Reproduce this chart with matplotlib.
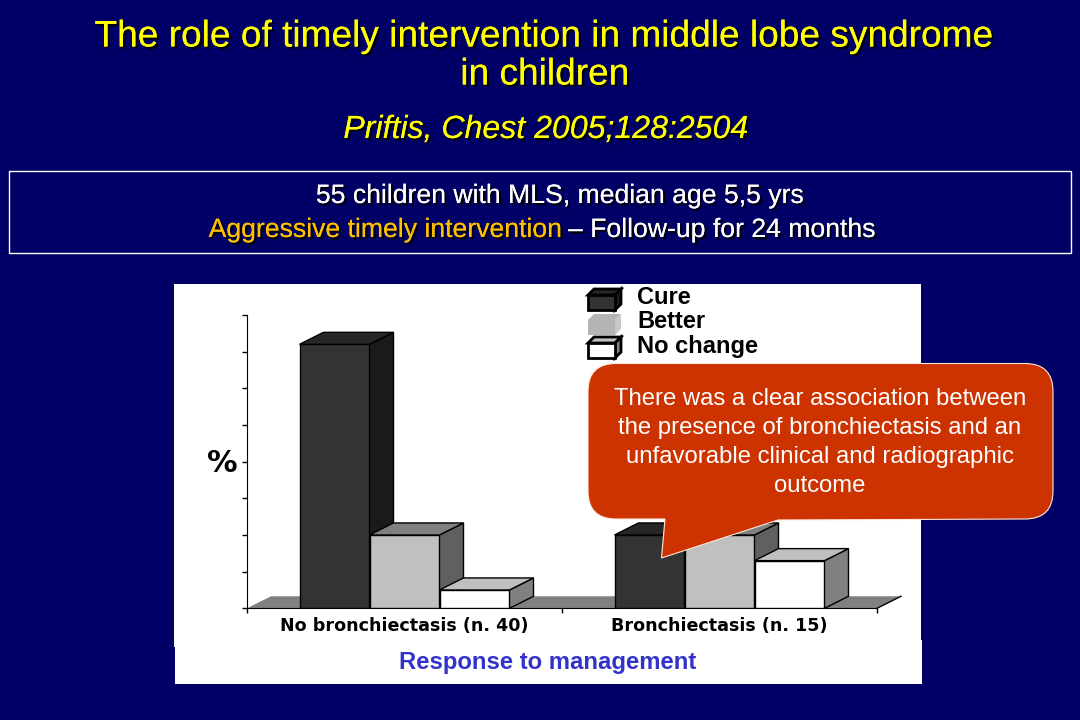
import matplotlib
matplotlib.use('Agg')
import matplotlib.pyplot as plt
import matplotlib.patheffects as pe
from matplotlib.patches import Rectangle, PathPatch
from matplotlib.path import Path

# chart values (%)
categories = ['No bronchiectasis (n. 40)', 'Bronchiectasis (n. 15)']
cure = [72, 20]
better = [20, 20]
no_change = [5, 13]
y_ticks = [0, 10, 20, 30, 40, 50, 60, 70, 80]
legend_labels = ['Cure', 'Better', 'No change']

title_lines = ['The role of timely intervention in middle lobe syndrome', 'in children']
citation = 'Priftis, Chest 2005;128:2504'
callout_lines = ['There was a clear association between',
                 'the presence of bronchiectasis and an',
                 'unfavorable clinical and radiographic',
                 'outcome']

NAVY = '#000066'
SANS = 'Liberation Sans'
# front, side, top
colors = [('#333333', '#1a1a1a', '#262626'),
          ('#c0c0c0', '#606060', '#808080'),
          ('#ffffff', '#808080', '#c0c0c0')]

# 3d depth of the bars, in data units
DX = 24 / 315
DY = 12 / 36.6 * 10
BAR_W = 70 / 315


def shadow(off=1.6):
    return [pe.withSimplePatchShadow(offset=(off, -off), shadow_rgbFace='black', alpha=0.9),
            pe.Normal()]


def draw_bar3d(ax, x, w, h, cols):
    front, side, top = cols
    ax.bar(x, h, w, align='edge', color=front, edgecolor='black', linewidth=1, zorder=3)
    ax.fill([x + w, x + w + DX, x + w + DX, x + w], [0, DY, h + DY, h],
            facecolor=side, edgecolor='black', linewidth=1, zorder=3, clip_on=False)
    ax.fill([x, x + DX, x + w + DX, x + w], [h, h + DY, h + DY, h],
            facecolor=top, edgecolor='black', linewidth=1, zorder=3, clip_on=False)


def draw_legend_box(ax, x, y, cols, lw):
    w, h, d = 27, 15, 6
    front, side, top = cols
    edge = 'black' if lw else front
    ax.add_patch(plt.Polygon([(x, y), (x + d, y - d), (x + w + d, y - d), (x + w, y)],
                             facecolor=top, edgecolor=edge, linewidth=lw))
    ax.add_patch(plt.Polygon([(x + w, y), (x + w + d, y - d), (x + w + d, y + h - d), (x + w, y + h)],
                             facecolor=side, edgecolor=edge, linewidth=lw))
    ax.add_patch(Rectangle((x, y), w, h, facecolor=front, edgecolor=edge, linewidth=lw))


def callout_path(x0, y0, x1, y1, r, tail):
    verts = [(x0 + r, y0), (x1 - r, y0), (x1, y0), (x1, y0 + r), (x1, y1 - r), (x1, y1), (x1 - r, y1),
             tail[2], tail[1], tail[0],
             (x0 + r, y1), (x0, y1), (x0, y1 - r), (x0, y0 + r), (x0, y0), (x0 + r, y0), (x0 + r, y0)]
    L, C = Path.LINETO, Path.CURVE3
    codes = [Path.MOVETO, L, C, C, L, C, C, L, L, L, L, C, C, L, C, C, Path.CLOSEPOLY]
    return Path(verts, codes)


fig = plt.figure(figsize=(10.8, 7.2), dpi=100, facecolor=NAVY)

# background layer in pixel coordinates
bg = fig.add_axes([0, 0, 1, 1], zorder=0)
bg.set_xlim(0, 1080)
bg.set_ylim(720, 0)
bg.axis('off')
bg.add_patch(Rectangle((174, 284), 747, 363, facecolor='white', edgecolor='none'))
bg.add_patch(Rectangle((175, 640), 747, 44, facecolor='white', edgecolor='none'))
bg.add_patch(Rectangle((9, 170.5), 1062, 82, facecolor='none', edgecolor='white', linewidth=1))

bg.text(545, 37, title_lines[0], color='#ffff00', fontsize=26.7, family=SANS,
        ha='center', va='center', path_effects=shadow())
bg.text(545, 75, title_lines[1], color='#ffff00', fontsize=26.7, family=SANS,
        ha='center', va='center', path_effects=shadow())
bg.text(546, 130, citation, color='#ffff00', fontsize=23.1, family=SANS, style='italic',
        ha='center', va='center', path_effects=shadow())
bg.text(560, 196, '55 children with MLS, median age 5,5 yrs', color='white', fontsize=19.15,
        family=SANS, ha='center', va='center', path_effects=shadow())
bg.text(562, 230, 'Aggressive timely intervention', color='#ffc000', fontsize=19.15,
        family=SANS, ha='right', va='center', path_effects=shadow())
bg.text(568, 230, '– Follow-up for 24 months', color='white', fontsize=19.15,
        family=SANS, ha='left', va='center', path_effects=shadow())

# chart
ax = fig.add_axes([247 / 1080, (720 - 608.3) / 720, 630 / 1080, 293.3 / 720], zorder=1)
ax.patch.set_alpha(0)
ax.set_xlim(0, 2)
ax.set_ylim(0, 80)
for s in ['top', 'right']:
    ax.spines[s].set_visible(False)
ax.set_yticks(y_ticks)
ax.set_yticklabels([])
ax.set_xticks([0, 1, 2])
ax.set_xticklabels([])
ax.tick_params(axis='both', which='major', length=3.6, width=1, color='black')
ax.set_xticks([0.5, 1.5], minor=True)
ax.set_xticklabels(categories, minor=True, fontsize=12.6, fontweight='bold', family='DejaVu Sans')
ax.tick_params(axis='x', which='minor', length=0, pad=6)

# floor
ax.fill([0, DX, 2 + DX, 2], [0, DY, DY, 0], facecolor='#808080', edgecolor='none', zorder=1, clip_on=False)
ax.plot([2, 2 + DX], [0, DY], color='black', linewidth=1, zorder=1, clip_on=False)

for i in range(len(categories)):
    heights = [cure[i], better[i], no_change[i]]
    for j in range(3):
        x = i + 0.5 + (j - 1.5) * BAR_W
        draw_bar3d(ax, x, BAR_W, heights[j], colors[j])

# top layer: axis names, legend, callout
top = fig.add_axes([0, 0, 1, 1], zorder=2)
top.set_xlim(0, 1080)
top.set_ylim(720, 0)
top.axis('off')
top.patch.set_alpha(0)
top.text(222, 464, '%', fontsize=22, fontweight='bold', family='DejaVu Sans', ha='center', va='center')
top.text(548, 662, 'Response to management', color='#3333cc', fontsize=17.2, fontweight='bold',
         family=SANS, ha='center', va='center')

draw_legend_box(top, 588, 295, colors[0], 2)
draw_legend_box(top, 588, 320, ('#b4b4b4', '#c8c8c8', '#b4b4b4'), 0)
draw_legend_box(top, 588, 343, colors[2], 2)
for label, yy in zip(legend_labels, [298, 322, 347]):
    top.text(637, yy, label, fontsize=17, fontweight='bold', family=SANS, ha='left', va='center')

top.add_patch(PathPatch(callout_path(588, 363.5, 1053, 519, 28, [(665, 519), (661.5, 558), (778, 520)]),
                        facecolor='#cc3300', edgecolor='#ffe8d8', linewidth=0.8))
for line, yy in zip(callout_lines, [399, 428, 457, 486]):
    top.text(820, yy, line, color='white', fontsize=17.2, family=SANS, ha='center', va='center')

fig.savefig('out.png', dpi=100, facecolor=NAVY)
